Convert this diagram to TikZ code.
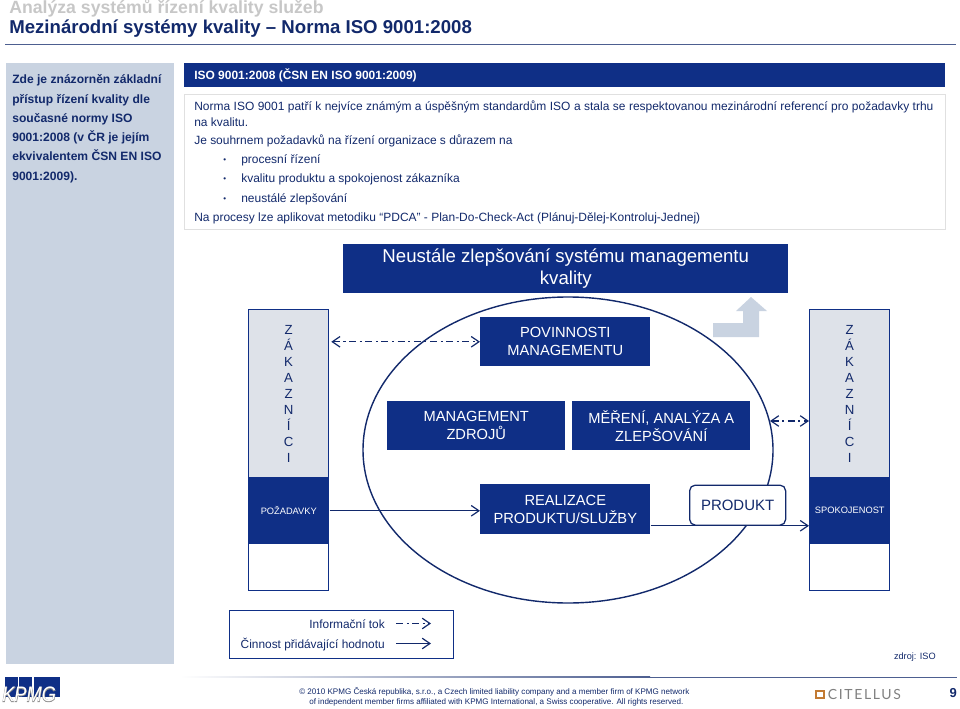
\documentclass[tikz,border=0pt]{standalone}
\usepackage{fontspec}
\setmainfont{Liberation Sans}
\newfontfamily\logofont[FakeStretch=0.87]{Liberation Sans}
\newfontfamily\logoedge[FakeStretch=0.87,FakeBold=3]{Liberation Sans}
\newfontfamily\citefont[LetterSpace=12]{Lato}
\usetikzlibrary{arrows.meta,positioning,shapes.geometric}
\definecolor{navy}{HTML}{0F2F86}
\definecolor{inkblue}{HTML}{12296B}
\definecolor{sidefill}{HTML}{C9D3E1}
\definecolor{greyfill}{HTML}{DEE2E9}
\newcommand{\px}[1]{\pgfmathsetmacro\pxsize{#1*0.71}\pgfmathsetmacro\pxskip{#1*0.86}\fontsize{\pxsize pt}{\pxskip pt}\selectfont}
\tikzset{
  headbox/.style={fill=navy,text=white,inner sep=0pt,align=center,anchor=north west},
  custbox/.style={fill=greyfill,draw=navy,line width=0.9pt,inner sep=0pt,anchor=north west,
    minimum width=80*0.025cm,minimum height=168*0.025cm,text=inkblue,align=center,
    font=\fontsize{9.4pt}{11.35pt}\selectfont},
  reqbox/.style={fill=navy,text=white,inner sep=0pt,anchor=north west,
    minimum width=81*0.025cm,minimum height=67*0.025cm,font=\px{9.3}},
  bodyline/.style={anchor=west,inner sep=0pt,text=inkblue},
  infoflow/.style={draw=inkblue,line width=0.85pt,dash pattern=on 5pt off 2.5pt on 1.5pt off 2.5pt,
    {Straight Barb[length=5.5pt,width=7.5pt]}-{Straight Barb[length=5.5pt,width=7.5pt]}},
  valueflow/.style={draw=inkblue,line width=0.85pt,-{Straight Barb[length=5.5pt,width=7.5pt]}}
}
\begin{document}
\begin{tikzpicture}[x=0.025cm,y=-0.025cm]
\useasboundingbox (0,0) rectangle (960,709);
% title
\node[anchor=west,inner sep=0pt,text=black!22] (topic) at (9,8.5) {\px{17.7}\bfseries Analýza systémů řízení kvality služeb};
\node[anchor=west,inner sep=0pt,text=inkblue] (title) at (9,29) {\px{18.65}\bfseries Mezinárodní systémy kvality – Norma ISO 9001:2008};
\draw[inkblue!75,line width=0.6pt] (5,44.5) -- (956,44.5);
% left column
\node[fill=sidefill,inner sep=0pt,anchor=north west,minimum width=168*0.025cm,minimum height=601*0.025cm] (side) at (6,63) {};
\node[anchor=north west,inner sep=0pt,text=inkblue,align=left,font=\fontsize{8.6pt}{13.7pt}\selectfont\bfseries] (sidetext) at (12,74.5)
  {Zde je znázorněn základní\\přístup řízení kvality dle\\současné normy ISO\\9001:2008 (v ČR je jejím\\ekvivalentem ČSN EN ISO\\9001:2009).};
% text panel
\node[fill=navy,anchor=north west,inner sep=0pt,minimum width=761*0.025cm,minimum height=24*0.025cm] (bar) at (184,63) {};
\node[anchor=west,inner sep=0pt,text=white] (bartext) at (194,75) {\px{12}\bfseries ISO 9001:2008 (ČSN EN ISO 9001:2009)};
\node[draw=black!12,anchor=north west,inner sep=0pt,minimum width=761*0.025cm,minimum height=135*0.025cm] (panel) at (184,94) {};
\begin{scope}[every node/.append style={bodyline,font=\px{12}}]
\node (l1) at (194,107) {\makebox[18.475cm][s]{Norma ISO 9001 patří k nejvíce známým a úspěšným standardům ISO a stala se respektovanou mezinárodní referencí pro požadavky trhu}};
\node (l2) at (194,122) {na kvalitu.};
\node (l3) at (194,141) {Je souhrnem požadavků na řízení organizace s důrazem na};
\node (l4) at (241,160) {procesní řízení};
\node (l5) at (241,179) {kvalitu produktu a spokojenost zákazníka};
\node (l6) at (241,199) {neustálé zlepšování};
\node (l7) at (194,218) {Na procesy lze aplikovat metodiku “PDCA” - Plan-Do-Check-Act (Plánuj-Dělej-Kontroluj-Jednej)};
\node[font=\px{8}] (b4) at (223,160.5) {•};
\node[font=\px{8}] (b5) at (223,179.5) {•};
\node[font=\px{8}] (b6) at (223,199.5) {•};
\end{scope}
% model
\node[headbox,minimum width=445*0.025cm,minimum height=49*0.025cm,font=\px{18.66}] (improve) at (343,244)
  {Neustále zlepšování systému managementu\\kvality};
\node[draw=inkblue,line width=1pt,ellipse,minimum width=410*0.025cm,minimum height=306*0.025cm,inner sep=0pt] (ring) at (568,450) {};
\fill[sidefill] (713,323) -- (743,323) -- (743,311) -- (736,311) -- (751,297) -- (767,311) -- (759,311) -- (759,337) -- (713,337) -- cycle;
\node[headbox,minimum width=170*0.025cm,minimum height=49*0.025cm,font=\px{14.7}] (duty) at (480,317) {POVINNOSTI\\MANAGEMENTU};
\node[headbox,minimum width=178*0.025cm,minimum height=49*0.025cm,font=\px{14.7}] (res) at (387,401) {MANAGEMENT\\ZDROJŮ};
\node[headbox,minimum width=178*0.025cm,minimum height=49*0.025cm,font=\px{14.7}] (meas) at (572,401) {MĚŘENÍ, ANALÝZA A\\ZLEPŠOVÁNÍ};
\node[headbox,minimum width=170*0.025cm,minimum height=50*0.025cm,font=\px{14.7}] (real) at (480,484) {REALIZACE\\PRODUKTU/SLUŽBY};
\node[draw=inkblue,line width=0.9pt,fill=white,rounded corners=4pt,text=inkblue,inner sep=0pt,anchor=north west,
  minimum width=96*0.025cm,minimum height=40*0.025cm,font=\px{15}] (prod) at (689,484.5) {PRODUKT};
% customers
\node[draw=navy,line width=0.9pt,fill=white,anchor=north west,inner sep=0pt,minimum width=80*0.025cm,minimum height=281*0.025cm] (custLo) at (248,309) {};
\node[draw=navy,line width=0.9pt,fill=white,anchor=north west,inner sep=0pt,minimum width=80*0.025cm,minimum height=281*0.025cm] (custRo) at (809,309) {};
\node[custbox] (custL) at (248,309) {Z\\Á\\K\\A\\Z\\N\\Í\\C\\I};
\node[custbox] (custR) at (809,309) {Z\\Á\\K\\A\\Z\\N\\Í\\C\\I};
\node[reqbox] (reqL) at (248,477) {POŽADAVKY};
\node[reqbox] (reqR) at (809,477) {SPOKOJENOST};
% flows
\coordinate (ringE) at (770,421);
\draw[infoflow] (custL.east |- duty.west) ++(2,0) -- (duty.west);
\draw[infoflow] (ringE) -- (ringE -| custR.west);
\draw[valueflow] (reqL.east) -- (reqL.east -| real.west);
\draw[valueflow] (real.east |- prod.south) -- (reqR.west |- prod.south);
% legend
\node[draw=navy,line width=0.8pt,anchor=north west,inner sep=0pt,minimum width=224*0.025cm,minimum height=48*0.025cm] (legend) at (229,610) {};
\node[anchor=east,inner sep=0pt,text=inkblue,font=\px{11.9}] (infotxt) at (385,624.5) {Informační tok};
\node[anchor=east,inner sep=0pt,text=inkblue,font=\px{11.9}] (valtxt) at (385,644.5) {Činnost přidávající hodnotu};
\coordinate (infoA) at (396,623.5);
\coordinate (infoB) at (431,623.5);
\coordinate (valA) at (396,643.5);
\coordinate (valB) at (431,643.5);
\draw[draw=inkblue,line width=0.85pt,dash pattern=on 5pt off 2.5pt on 1.5pt off 2.5pt,-{Straight Barb[length=5.5pt,width=7.5pt]}] (infoA) -- (infoB);
\draw[valueflow] (valA) -- (valB);
\node[anchor=east,inner sep=0pt,text=inkblue,font=\px{9.2}] (source) at (936,657.5) {zdroj: ISO};
% footer
\shade[left color=white,right color=inkblue!75] (180,676.7) rectangle (650,677.4);
\draw[inkblue!75,line width=0.6pt] (650,677) -- (957,677);
\foreach \i/\xa in {1/5,2/19,3/33.5,4/47}
  \fill[navy] (\xa,677) rectangle ++(13,20);
\node[anchor=west,inner sep=0pt,text=black!45,font=\px{21}\itshape\logoedge] (logoA) at (2,694.5) {KPMG};
\node[anchor=west,inner sep=0pt,text=white,font=\px{21}\itshape\logofont] (logoB) at (2,694.5) {KPMG};
\node[anchor=west,inner sep=0pt,text=inkblue,font=\px{8.07}] (copy1) at (299,691.5) {© 2010 KPMG Česká republika, s.r.o., a Czech limited liability company and a member firm of KPMG network};
\node[anchor=west,inner sep=0pt,text=inkblue,font=\px{8.07}] (copy2) at (309,702) {of independent member firms affiliated with KPMG International, a Swiss cooperative. All rights reserved.};
\draw[orange!70!black!80,line width=1.3pt] (816,691) rectangle (824,698);
\node[anchor=west,inner sep=0pt,text=black!50,font=\px{14}\citefont] (cite) at (827.5,694) {CITELLUS};
\node[anchor=east,inner sep=0pt,text=inkblue,font=\px{13}\bfseries] (page) at (957,693.5) {9};
\end{tikzpicture}
\end{document}
